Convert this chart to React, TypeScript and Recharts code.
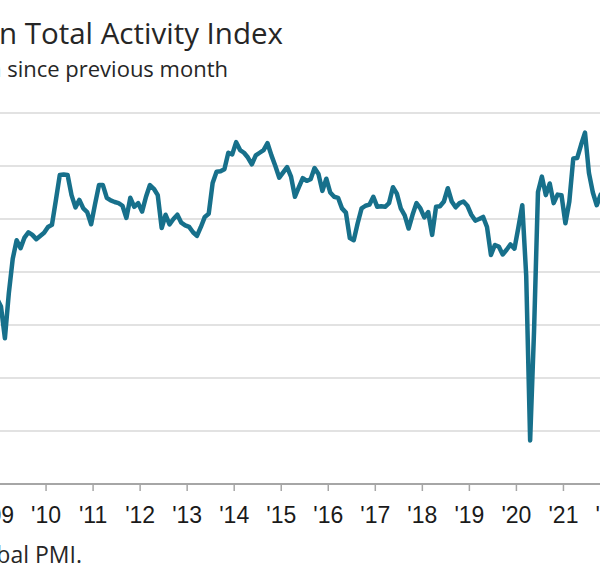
import React from "react";
import { LineChart, Line, XAxis, YAxis, CartesianGrid } from "recharts";

// UK construction activity index, monthly (sa, >50 = growth since previous month)
const years = [2008, 2009, 2010, 2011, 2012, 2013, 2014, 2015, 2016, 2017, 2018, 2019, 2020, 2021];
const v2008 = [null, null, null, null, null, null, null, null, null, null, null, 35.0];
const v2009 = [33.5, 27.5, 36.0, 42.5, 46.0, 44.5, 46.5, 47.5, 47.0, 46.2, 46.8, 47.4];
const v2010 = [48.5, 48.9, 53.5, 58.3, 58.4, 58.3, 54.5, 52.2, 53.6, 52.0, 51.3, 49.0];
const v2011 = [52.8, 56.4, 56.4, 54.0, 53.5, 53.2, 53.0, 52.5, 50.2, 54.0, 52.3, 53.0];
const v2012 = [51.4, 54.2, 56.4, 55.7, 54.5, 48.3, 50.8, 49.0, 50.0, 50.8, 49.3, 48.8];
const v2013 = [48.5, 47.5, 46.8, 48.5, 50.4, 51.0, 56.8, 58.9, 59.0, 59.4, 62.5, 62.2];
const v2014 = [64.5, 63.0, 62.5, 61.6, 60.3, 62.0, 62.5, 63.0, 64.3, 62.0, 60.0, 57.8];
const v2015 = [58.8, 59.8, 58.0, 54.2, 56.0, 57.7, 57.2, 57.5, 59.6, 58.5, 55.3, 57.6];
const v2016 = [55.0, 54.2, 54.0, 52.0, 51.2, 46.4, 46.0, 49.2, 52.0, 52.5, 52.7, 54.2];
const v2017 = [52.3, 52.4, 52.3, 53.0, 56.0, 54.8, 52.0, 50.7, 48.2, 50.8, 53.0, 52.0];
const v2018 = [50.3, 51.3, 47.0, 52.3, 52.4, 53.3, 55.8, 53.3, 52.2, 53.0, 53.3, 52.5];
const v2019 = [50.8, 49.7, 50.0, 50.4, 48.5, 43.2, 45.1, 44.8, 43.3, 44.2, 45.2, 44.4];
const v2020 = [48.4, 52.6, 39.3, 8.2, 28.9, 55.1, 58.0, 54.5, 56.7, 53.0, 54.6, 54.5];
const v2021 = [49.2, 53.3, 61.4, 61.5, 64.0, 66.3, 58.7, 55.0, 52.6, 54.6, 55.5, null];
const yearValues = [v2008, v2009, v2010, v2011, v2012, v2013, v2014, v2015, v2016, v2017, v2018, v2019, v2020, v2021];

const tickLabels = ["'09", "'10", "'11", "'12", "'13", "'14", "'15", "'16", "'17", "'18", "'19", "'20", "'21", "'22"];
const yTicks = [0, 10, 20, 30, 40, 50, 60, 70];

const title = "UK Construction Total Activity Index";
const subtitle = "sa, >50 = growth since previous month";
const source = "Source: S&P Global PMI.";

const data: { t: number; v: number }[] = [];
years.forEach((y, yi) => {
  yearValues[yi].forEach((v, m) => {
    if (v !== null) data.push({ t: (y - 2009) * 12 + m + 0.5, v: v as number });
  });
});
const xTicks = tickLabels.map((_, i) => i * 12);

export default function App() {
  return (
    <div style={{ position: "absolute", left: 0, top: 0, width: 600, height: 571, overflow: "hidden", background: "#fff" }}>
      <div style={{ position: "absolute", left: -100, top: 0 }}>
        <LineChart width={744} height={571} data={data} margin={{ top: 113, left: 75.5, right: 10, bottom: 47 }}>
          <CartesianGrid vertical={false} stroke="#d9d9d9" strokeWidth={1.6} />
          <XAxis
            type="number"
            dataKey="t"
            domain={[-6, 162]}
            ticks={xTicks}
            tickFormatter={(t: number) => tickLabels[Math.round(t / 12)]}
            interval={0}
            height={40}
            axisLine={{ stroke: "#a6a6a6", strokeWidth: 2 }}
            tickLine={{ stroke: "#a6a6a6", strokeWidth: 1.5 }}
            tickSize={7}
            tickMargin={16}
            tick={{ fill: "#1a1a1a", fontSize: 23, fontFamily: "Liberation Sans, Arial, sans-serif" }}
          />
          <YAxis hide domain={[0, 70]} ticks={yTicks} />
          <Line type="linear" dataKey="v" stroke="#17708b" strokeWidth={4.5} dot={false} strokeLinejoin="round" isAnimationActive={false} />
        </LineChart>
      </div>
      <svg width={600} height={571} style={{ position: "absolute", left: 0, top: 0, pointerEvents: "none" }}>
        <text x={283} y={44} textAnchor="end" fill="#262626" fontSize={29.5} fontFamily="Open Sans, sans-serif">{title}</text>
        <text x={228} y={77} textAnchor="end" fill="#262626" fontSize={22} fontFamily="Open Sans, sans-serif">{subtitle}</text>
        <text x={82} y={563} textAnchor="end" fill="#262626" fontSize={23} fontFamily="Open Sans, sans-serif">{source}</text>
      </svg>
    </div>
  );
}
